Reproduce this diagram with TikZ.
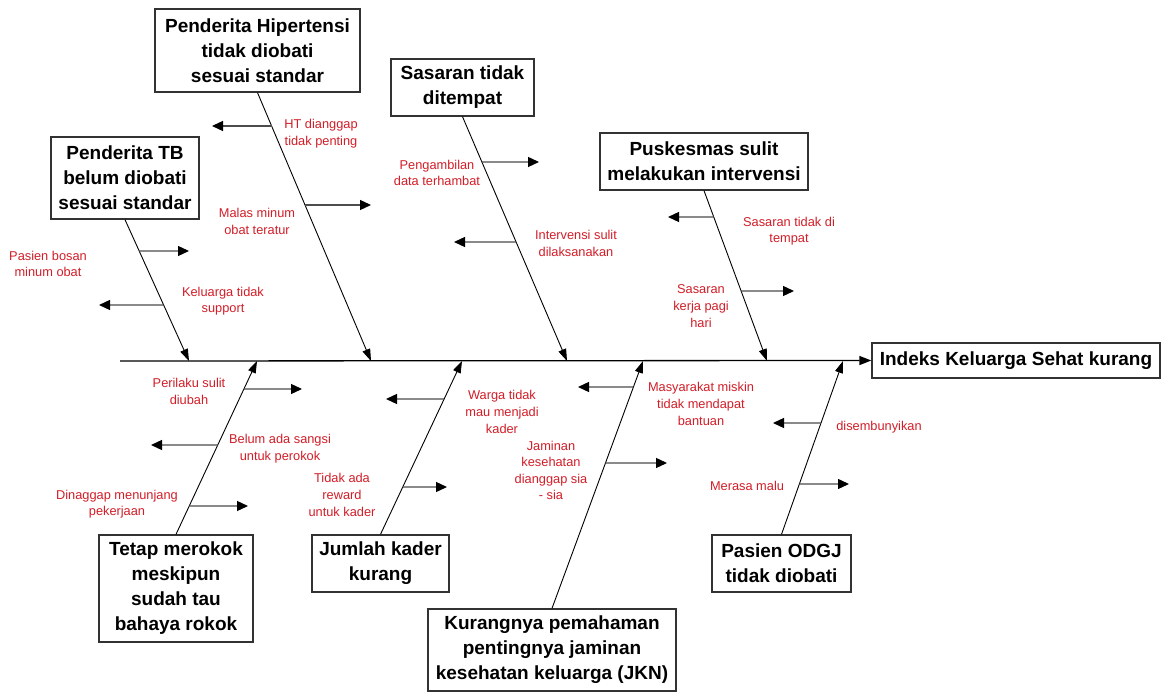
\documentclass[tikz,border=0pt]{standalone}
\usepackage{fontspec}
\setmainfont{Liberation Sans}
\usetikzlibrary{arrows.meta}
\definecolor{lblred}{RGB}{210,30,40}
\definecolor{boxgray}{RGB}{50,50,50}
\begin{document}
\begin{tikzpicture}[x=1pt,y=-1pt,
  cause/.style={draw=boxgray,line width=1.3pt,fill=white,align=center,font=\bfseries\fontsize{19}{25}\selectfont,inner sep=0pt},
  lbl/.style={text=lblred,align=center,font=\fontsize{12.8}{16.6}\selectfont,inner sep=0pt},
  bone/.style={line width=0.9pt,-{Triangle[length=12pt,width=8pt]}},
  spine/.style={line width=1.3pt,-{Triangle[length=12pt,width=9pt]}},
  sub/.style={draw=black!70,line width=1.3pt,-{Triangle[length=11pt,width=10pt,color=black,fill=black]}},
]
\fill[white] (0,0) rectangle (1165,692);
\useasboundingbox (0,0) rectangle (1165,692);

% effect
\node[cause,minimum width=288pt,minimum height=35pt] (eff) at (1016,360.5) {Indeks Keluarga Sehat kurang};
\coordinate (s0) at (120,361);

% cause boxes
\node[cause,minimum width=205pt,minimum height=83pt] (b1) at (257.5,50.5) {Penderita Hipertensi\\tidak diobati\\sesuai standar};
\node[cause,minimum width=148pt,minimum height=82pt] (b2) at (125,178) {Penderita TB\\belum diobati\\sesuai standar};
\node[cause,minimum width=143pt,minimum height=57pt] (b3) at (462.5,87.5) {Sasaran tidak\\ditempat};
\node[cause,minimum width=208pt,minimum height=57pt] (b4) at (704,161.5) {Puskesmas sulit\\melakukan intervensi};
\node[cause,minimum width=154pt,minimum height=107pt] (b5) at (176,588.5) {Tetap merokok\\meskipun\\sudah tau\\bahaya rokok};
\node[cause,minimum width=137pt,minimum height=57pt] (b6) at (380.5,563.5) {Jumlah kader\\kurang};
\node[cause,minimum width=248pt,minimum height=82pt] (b7) at (552,650) {Kurangnya pemahaman\\pentingnya jaminan\\kesehatan keluarga (JKN)};
\node[cause,minimum width=139pt,minimum height=57pt] (b8) at (781.5,563.5) {Pasien ODGJ\\tidak diobati};

% spine tips
\coordinate (t1) at (371,361);
\coordinate (t2) at (189,361);
\coordinate (t3) at (567,361);
\coordinate (t4) at (767,361);
\coordinate (t5) at (257,361);
\coordinate (t6) at (462,361);
\coordinate (t7) at (643,361);
\coordinate (t8) at (843,361);

\draw[spine] (s0) -- (eff.west);

\draw[bone] (b1.south) -- (t1);
\draw[bone] (b2.south) -- (t2);
\draw[bone] (b3.south) -- (t3);
\draw[bone] (b4.south) -- (t4);
\draw[bone] (b5.north) -- (t5);
\draw[bone] (b6.north) -- (t6);
\draw[bone] (b7.north) -- (t7);
\draw[bone] (b8.north) -- (t8);

% sub-arrow start points on the bones
\coordinate (p1a) at (intersection of b1.south--t1 and 0,126--10,126);
\coordinate (p1b) at (intersection of b1.south--t1 and 0,205--10,205);
\coordinate (p2a) at (intersection of b2.south--t2 and 0,251--10,251);
\coordinate (p2b) at (intersection of b2.south--t2 and 0,305--10,305);
\coordinate (p3a) at (intersection of b3.south--t3 and 0,162--10,162);
\coordinate (p3b) at (intersection of b3.south--t3 and 0,242--10,242);
\coordinate (p4a) at (intersection of b4.south--t4 and 0,217--10,217);
\coordinate (p4b) at (intersection of b4.south--t4 and 0,291--10,291);
\coordinate (p5a) at (intersection of b5.north--t5 and 0,389--10,389);
\coordinate (p5b) at (intersection of b5.north--t5 and 0,445--10,445);
\coordinate (p5c) at (intersection of b5.north--t5 and 0,506--10,506);
\coordinate (p6a) at (intersection of b6.north--t6 and 0,399--10,399);
\coordinate (p6b) at (intersection of b6.north--t6 and 0,487--10,487);
\coordinate (p7a) at (intersection of b7.north--t7 and 0,387--10,387);
\coordinate (p7b) at (intersection of b7.north--t7 and 0,463--10,463);
\coordinate (p8a) at (intersection of b8.north--t8 and 0,423--10,423);
\coordinate (p8b) at (intersection of b8.north--t8 and 0,484--10,484);

% sub-arrow ends
\coordinate (e1a) at (212,126);
\coordinate (e1b) at (371,205);
\coordinate (e2a) at (189,251);
\coordinate (e2b) at (99,305);
\coordinate (e3a) at (539,162);
\coordinate (e3b) at (454,242);
\coordinate (e4a) at (668,217);
\coordinate (e4b) at (794,291);
\coordinate (e5a) at (302,389);
\coordinate (e5b) at (151,445);
\coordinate (e5c) at (248,506);
\coordinate (e6a) at (386,399);
\coordinate (e6b) at (447,487);
\coordinate (e7a) at (578,387);
\coordinate (e7b) at (667,463);
\coordinate (e8a) at (773,423);
\coordinate (e8b) at (849,484);

\foreach \k in {1a,1b,2a,2b,3a,3b,4a,4b,5a,5b,5c,6a,6b,7a,7b,8a,8b}
  \draw[sub] (p\k) -- (e\k);

% labels
\node[lbl] (l1a) at (321,133.5) {HT dianggap\\tidak penting};
\node[lbl] (l1b) at (257,221.5) {Malas minum\\obat teratur};
\node[lbl] (l2a) at (48,264) {Pasien bosan\\minum obat};
\node[lbl] (l2b) at (223,301) {Keluarga tidak\\support};
\node[lbl] (l3a) at (437,173) {Pengambilan\\data terhambat};
\node[lbl] (l3b) at (576,243.5) {Intervensi sulit\\dilaksanakan};
\node[lbl] (l4a) at (789,231) {Sasaran tidak di\\tempat};
\node[lbl] (l4b) at (701,306) {Sasaran\\kerja pagi\\hari};
\node[lbl] (l5a) at (189,391.5) {Perilaku sulit\\diubah};
\node[lbl] (l5b) at (280,448.5) {Belum ada sangsi\\untuk perokok};
\node[lbl] (l5c) at (117,504) {Dinaggap menunjang\\pekerjaan};
\node[lbl] (l6a) at (502,412) {Warga tidak\\mau menjadi\\kader};
\node[lbl] (l6b) at (342,495) {Tidak ada\\reward\\untuk kader};
\node[lbl] (l7a) at (701,404) {Masyarakat miskin\\tidak mendapat\\bantuan};
\node[lbl] (l7b) at (551,470.5) {Jaminan\\kesehatan\\dianggap sia\\- sia};
\node[lbl] (l8a) at (879,427) {disembunyikan};
\node[lbl] (l8b) at (747,486) {Merasa malu};
\end{tikzpicture}
\end{document}
